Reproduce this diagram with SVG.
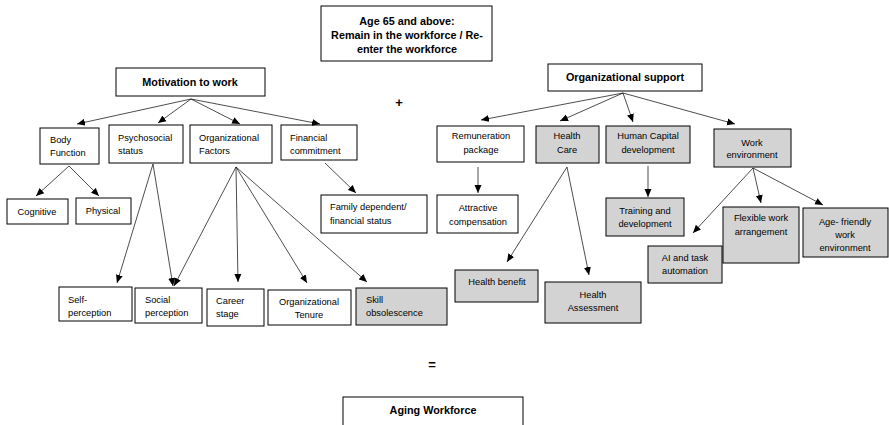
<svg xmlns="http://www.w3.org/2000/svg" width="889" height="425" viewBox="0 0 889 425">
<defs>
<marker id="ah" markerUnits="userSpaceOnUse" markerWidth="8" markerHeight="8" viewBox="0 0 8 8" refX="8" refY="4" orient="auto">
<path d="M0,0.5 L8,4 L0,7.5 Z" fill="#000"/>
</marker>
<style>
rect{fill:#fff;stroke:#000;stroke-width:1}
rect.g{fill:#d3d3d3}
text{font-family:"Liberation Sans",Arial,sans-serif;font-size:9.3px;fill:#000}
text.b{font-weight:bold;font-size:10.8px}
text.c{text-anchor:middle}
#connectors line{stroke:#000;stroke-width:0.7;marker-end:url(#ah)}
</style>
</defs>
<rect x="0" y="0" width="889" height="425" style="fill:#fff;stroke:none"/>

<g id="age65"><rect x="321" y="6" width="171" height="55"/>
<text class="b c" x="407" y="25">Age 65 and above:</text>
<text class="b c" x="407" y="39">Remain in the workforce / Re-</text>
<text class="b c" x="407" y="53">enter the workforce</text></g>

<text class="b c" x="399" y="107" style="font-size:13px">+</text>
<text class="b c" x="432" y="369" style="font-size:13px">=</text>

<g id="motivation"><rect x="116" y="68" width="149" height="28"/><text class="b c" x="190" y="86">Motivation to work</text></g>
<g id="body"><rect x="40" y="128" width="59" height="36"/><text x="50" y="143">Body</text><text x="50" y="156">Function</text></g>
<g id="psycho"><rect x="109" y="125" width="74" height="38"/><text x="118" y="141">Psychosocial</text><text x="118" y="154">status</text></g>
<g id="orgfactors"><rect x="190" y="125" width="82" height="38"/><text x="199" y="141">Organizational</text><text x="199" y="154">Factors</text></g>
<g id="financial"><rect x="281" y="125" width="76" height="35"/><text x="290" y="141">Financial</text><text x="290" y="154">commitment</text></g>
<g id="cognitive"><rect x="7" y="199" width="61" height="25"/><text class="c" x="37" y="215">Cognitive</text></g>
<g id="physical"><rect x="76" y="198" width="55" height="26"/><text class="c" x="103" y="214">Physical</text></g>
<g id="family"><rect x="321" y="195" width="106" height="38"/><text x="330" y="210">Family dependent/</text><text x="330" y="224">financial status</text></g>
<g id="selfperc"><rect x="59" y="287" width="73" height="34"/><text x="68" y="303">Self-</text><text x="68" y="316">perception</text></g>
<g id="socialperc"><rect x="135" y="288" width="67" height="35"/><text x="145" y="303">Social</text><text x="145" y="316">perception</text></g>
<g id="career"><rect x="207" y="289" width="57" height="37"/><text x="216" y="304">Career</text><text x="216" y="317">stage</text></g>
<g id="tenure"><rect x="268" y="290" width="83" height="35"/><text class="c" x="309" y="305">Organizational</text><text class="c" x="309" y="318">Tenure</text></g>
<g id="skill"><rect class="g" x="356" y="288" width="91" height="37"/><text x="366" y="303">Skill</text><text x="366" y="316">obsolescence</text></g>

<g id="orgsupport"><rect x="548" y="64" width="154" height="27"/><text class="b c" x="625" y="81">Organizational support</text></g>
<g id="remuneration"><rect x="437" y="126" width="87" height="36"/><text class="c" x="481" y="139">Remuneration</text><text class="c" x="481" y="153">package</text></g>
<g id="healthcare"><rect class="g" x="536" y="126" width="63" height="37"/><text class="c" x="567" y="139">Health</text><text class="c" x="567" y="153">Care</text></g>
<g id="humancap"><rect class="g" x="606" y="126" width="84" height="37"/><text class="c" x="648" y="139">Human Capital</text><text class="c" x="648" y="153">development</text></g>
<g id="workenv"><rect class="g" x="714" y="129" width="77" height="38"/><text class="c" x="752" y="146">Work</text><text class="c" x="752" y="158">environment</text></g>
<g id="attractive"><rect x="437" y="195" width="81" height="38"/><text class="c" x="478" y="211">Attractive</text><text class="c" x="478" y="225">compensation</text></g>
<g id="training"><rect class="g" x="606" y="198" width="78" height="38"/><text class="c" x="645" y="214">Training and</text><text class="c" x="645" y="227">development</text></g>
<g id="healthbenefit"><rect class="g" x="455" y="270" width="83" height="32"/><text class="c" x="497" y="285">Health benefit</text></g>
<g id="healthassess"><rect class="g" x="545" y="282" width="96" height="41"/><text class="c" x="593" y="298">Health</text><text class="c" x="593" y="311">Assessment</text></g>
<g id="ai"><rect class="g" x="648" y="246" width="74" height="37"/><text class="c" x="685" y="261">AI and task</text><text class="c" x="685" y="274">automation</text></g>
<g id="flexible"><rect class="g" x="723" y="207" width="76" height="56"/><text class="c" x="761" y="221">Flexible work</text><text class="c" x="761" y="235">arrangement</text></g>
<g id="agefriendly"><rect class="g" x="803" y="208" width="85" height="49"/><text class="c" x="845" y="225">Age- friendly</text><text class="c" x="845" y="238">work</text><text class="c" x="845" y="251">environment</text></g>

<g id="agingworkforce"><rect x="343" y="397" width="180" height="40"/><text class="b c" x="433" y="414">Aging Workforce</text></g>

<g id="connectors">
<line x1="191" y1="99" x2="77" y2="124"/>
<line x1="191" y1="99" x2="158" y2="123"/>
<line x1="191" y1="99" x2="240" y2="124"/>
<line x1="191" y1="99" x2="320" y2="124"/>
<line x1="69" y1="166" x2="36" y2="196"/>
<line x1="69" y1="166" x2="99" y2="196"/>
<line x1="325" y1="163" x2="356" y2="193"/>
<line x1="153" y1="164" x2="117" y2="283"/>
<line x1="153" y1="164" x2="173" y2="286"/>
<line x1="236" y1="167" x2="174" y2="286"/>
<line x1="236" y1="167" x2="238" y2="282"/>
<line x1="236" y1="167" x2="307" y2="283"/>
<line x1="236" y1="167" x2="367" y2="282"/>
<line x1="623" y1="93" x2="481" y2="120"/>
<line x1="623" y1="93" x2="560" y2="121"/>
<line x1="623" y1="93" x2="633" y2="122"/>
<line x1="623" y1="93" x2="735" y2="124"/>
<line x1="478" y1="167" x2="478" y2="193"/>
<line x1="648" y1="166" x2="648" y2="197"/>
<line x1="567" y1="167" x2="507" y2="262"/>
<line x1="567" y1="167" x2="589" y2="275"/>
<line x1="753" y1="168" x2="693" y2="233"/>
<line x1="753" y1="168" x2="761" y2="203"/>
<line x1="753" y1="168" x2="823" y2="205"/>
</g>
</svg>
